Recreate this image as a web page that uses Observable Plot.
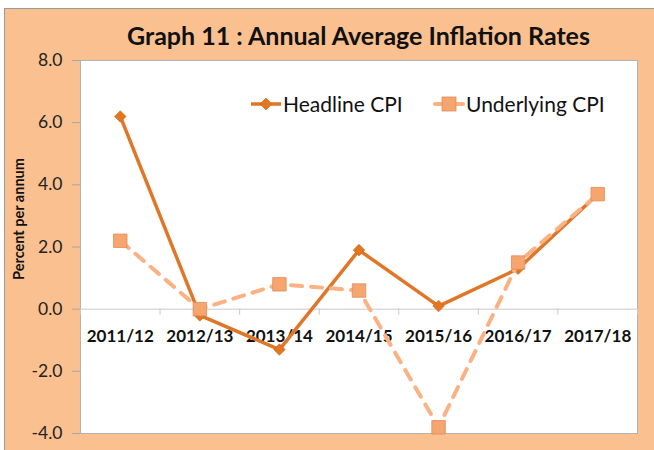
<!DOCTYPE html>
<html><head><meta charset="utf-8">
<script src="https://cdn.jsdelivr.net/npm/d3@7"></script>
<script src="https://cdn.jsdelivr.net/npm/@observablehq/plot@0.6"></script>
<style>
body{margin:0;background:#fff;font-family:Lato,sans-serif;}
#wrap{position:relative;width:654px;height:450px;overflow:hidden;}
#bg{position:absolute;left:4px;top:8px;right:0;bottom:0;background:#FAC090;border-left:1px solid #9a9a9a;border-top:1px solid #9a9a9a;}
#chart{position:absolute;left:0;top:0;}
#title{position:absolute;left:80px;width:557px;top:20px;text-align:center;font:bold 25px Lato,sans-serif;color:#111;}
#ylab{position:absolute;left:18px;top:219px;transform:translate(-50%,-50%) rotate(-90deg);font:bold 14.5px Lato,sans-serif;color:#111;white-space:nowrap;}
.item{position:absolute;top:91px;display:flex;align-items:center;font:21px Lato,sans-serif;color:#111;}
.item svg{margin-right:1px;}
</style></head>
<body>
<div id="wrap">
  <div id="bg"></div>
  <div id="chart"></div>
  <div id="title">Graph 11 : Annual Average Inflation Rates</div>
  <div id="ylab">Percent per annum</div>
  <div class="item" style="left:250px"><svg width="32" height="24"><line x1="1" y1="12" x2="31" y2="12" stroke="#E07628" stroke-width="3.5"/><path d="M16 6 L22 12 L16 18 L10 12 Z" fill="#E3771F" stroke="#C86419" stroke-width="0.6"/></svg><span>Headline CPI</span></div>
  <div class="item" style="left:433px"><svg width="32" height="24"><line x1="2" y1="12" x2="30" y2="12" stroke="#FAB184" stroke-width="4" stroke-linecap="round"/><rect x="9" y="5" width="14" height="14" fill="#F6A56F" stroke="#E08C5A" stroke-width="0.8"/></svg><span>Underlying CPI</span></div>
</div>
<script>
const categories = ["2011/12","2012/13","2013/14","2014/15","2015/16","2016/17","2017/18"];
const headline = [6.2, -0.2, -1.3, 1.9, 0.1, 1.3, 3.7];
const underlying = [2.2, 0.0, 0.8, 0.6, -3.8, 1.5, 3.7];
const yTicks = [-4, -2, 0, 2, 4, 6, 8];

const hData = categories.map((c, i) => ({i, c, v: headline[i]}));
const uData = categories.map((c, i) => ({i, c, v: underlying[i]}));
const boundaries = d3.range(0, categories.length + 1).map(k => k - 0.5);
const fmt = d => d.toFixed(1);

const plot = Plot.plot({
  width: 654, height: 450,
  marginLeft: 80, marginRight: 17, marginTop: 60, marginBottom: 17,
  style: {background: "transparent", fontFamily: "Lato, sans-serif"},
  x: {domain: [-0.5, categories.length - 0.5], axis: null},
  y: {domain: [-4, 8], axis: null},
  marks: [
    Plot.frame({fill: "white", stroke: "#b3b3b3"}),
    Plot.axisY({ticks: yTicks, tickFormat: fmt, tickSize: 8, tickPadding: 10,
      fontSize: 17.5, stroke: "#a6a6a6", color: "#222", label: null}),
    Plot.ruleY([0], {stroke: "#c8c8c8", strokeWidth: 1}),
    Plot.ruleX(boundaries, {x: d => d, y1: 0, y2: 0, insetBottom: -6, stroke: "#c8c8c8"}),
    Plot.text(categories, {x: (d, i) => i, y: 0, text: d => d, dy: 27, fontSize: 17,
      fontWeight: "bold", fill: "#111"}),
    Plot.line(hData, {x: "i", y: "v", stroke: "#E07628", strokeWidth: 3.5}),
    Plot.dot(hData, {x: "i", y: "v", symbol: "diamond2", r: 5.2, fill: "#E3771F", stroke: "#C86419", strokeWidth: 0.6}),
    Plot.line(uData, {x: "i", y: "v", stroke: "#FAB184", strokeWidth: 4, strokeDasharray: "11 9", strokeLinecap: "round"}),
    Plot.dot(uData, {x: "i", y: "v", symbol: "square", r: 7.6, fill: "#F6A56F", stroke: "#E08C5A", strokeWidth: 0.8})
  ]
});
document.getElementById("chart").appendChild(plot);
</script>
</body></html>
